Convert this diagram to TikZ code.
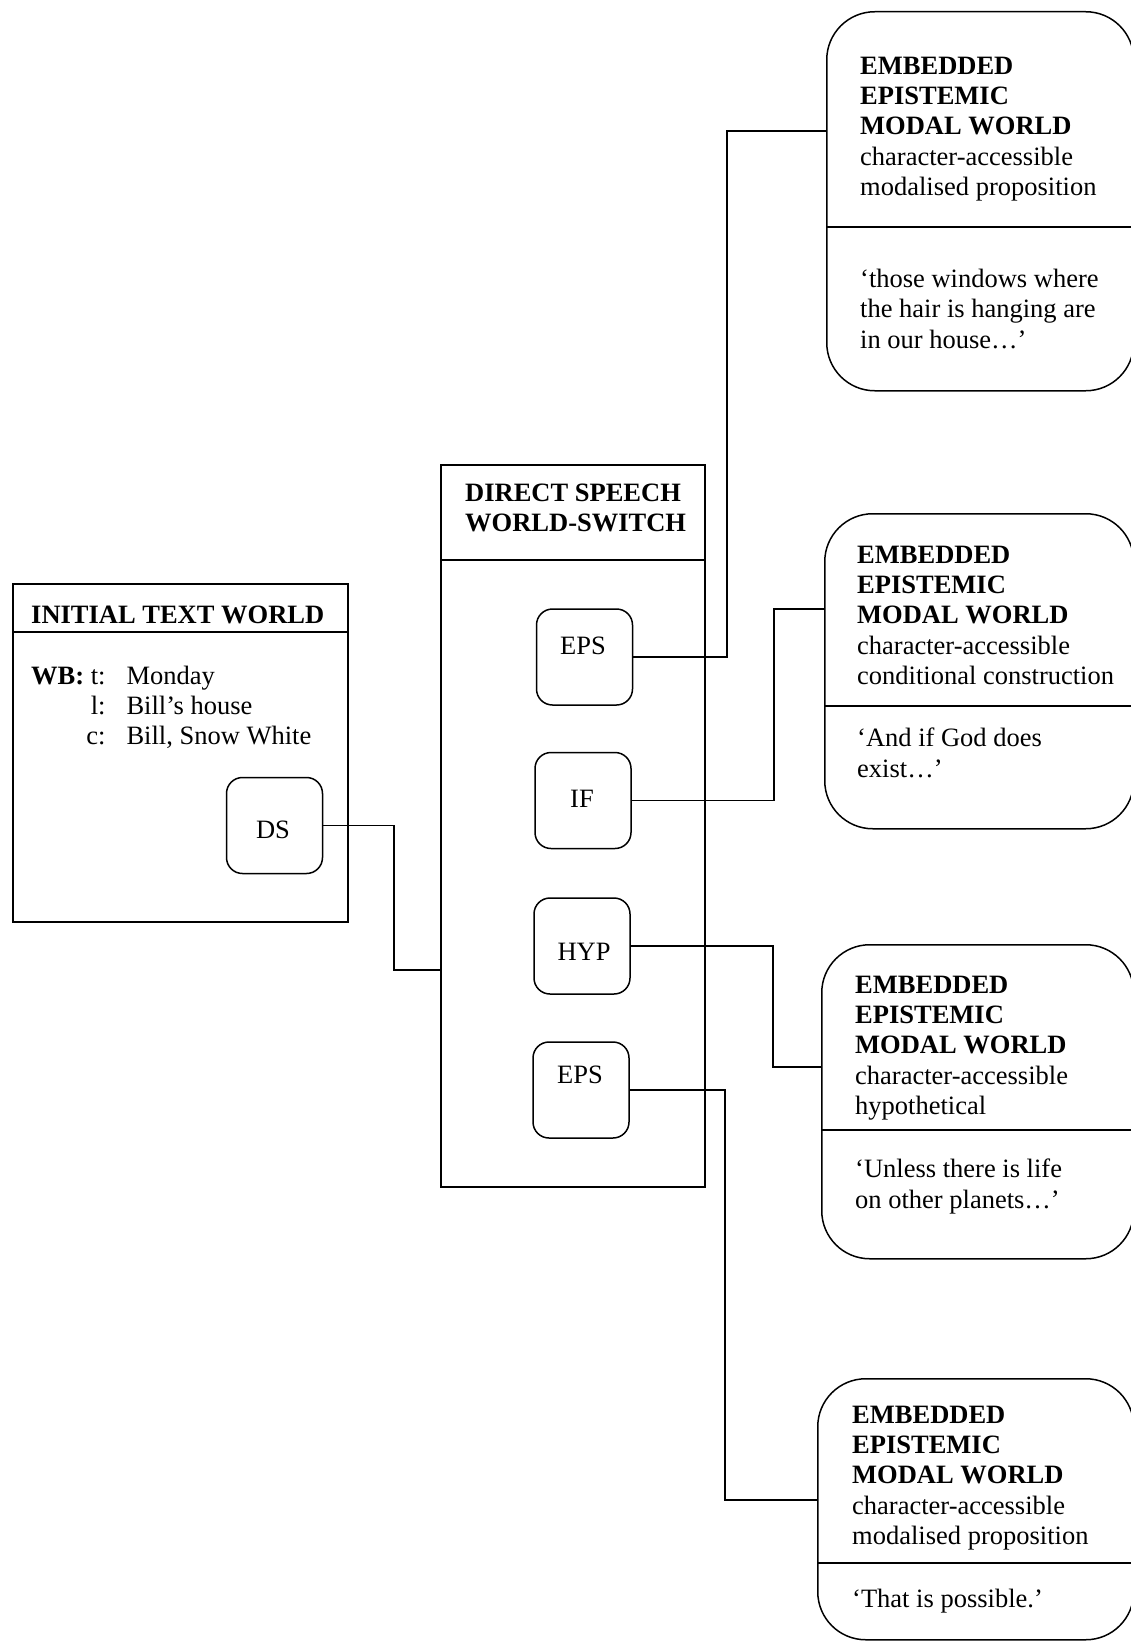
\documentclass[tikz,border=0pt]{standalone}
\usepackage{fontspec}
\setmainfont{Liberation Serif}
\begin{document}
\begin{tikzpicture}[x=1pt,y=-1pt,
  frame/.style={draw, line width=1.5pt, inner sep=0pt, anchor=north west},
  smallbox/.style={draw, line width=1.5pt, rounded corners=16pt, minimum width=96pt, minimum height=96pt, inner sep=0pt},
  bigbox/.style={draw, line width=1.5pt, rounded corners=48pt, inner sep=0pt, anchor=north west},
  txt/.style={font=\fontsize{26.5}{30.4}\selectfont, inner sep=0pt, align=left, anchor=north west},
  lbl/.style={font=\fontsize{26.5}{30.4}\selectfont, inner sep=0pt},
  conn/.style={line width=1.6pt}]
\path[use as bounding box, fill=white] (0,0) rectangle (1131,1643);

% initial text world
\node[frame, minimum width=335pt, minimum height=338pt] (iw) at (12,583) {};
\coordinate (iwd) at (0,632);
\draw[conn] (iw.west |- iwd) -- (iw.east |- iwd);
\node[lbl, anchor=base west] (iwt) at (31,623) {\textbf{INITIAL TEXT WORLD}};
\node[txt] (wb) at (31,662.7) {\begin{tabular}{@{}r@{\hspace{21pt}}l@{}}\textbf{WB:} t: & Monday\\ l: & Bill’s house\\ c: & Bill, Snow White\end{tabular}};
\node[smallbox] (ds) at (274.5,825.5) {};
\node[lbl] (dst) at (273,830) {DS};

% direct speech world-switch
\node[frame, minimum width=264pt, minimum height=722pt] (dsw) at (440,464) {};
\coordinate (dswd) at (0,560);
\draw[conn] (dsw.west |- dswd) -- (dsw.east |- dswd);
\node[txt] (dswt) at (465,483.5) {\textbf{DIRECT SPEECH}\\\textbf{WORLD-SWITCH}};

\node[smallbox] (eps1) at (584.5,657) {};
\node[lbl] (eps1t) at (583,646) {EPS};
\node[smallbox] (ifb) at (583,800.5) {};
\node[lbl] (ifbt) at (582,799) {IF};
\node[smallbox] (hyp) at (582,946) {};
\node[lbl] (hypt) at (584,952) {HYP};
\node[smallbox] (eps2) at (581,1090) {};
\node[lbl] (eps2t) at (580,1075) {EPS};

% embedded worlds
\node[bigbox, minimum width=307pt, minimum height=379pt] (w1) at (826,11) {};
\node[bigbox, minimum width=309pt, minimum height=315pt] (w2) at (824,513) {};
\node[bigbox, minimum width=312pt, minimum height=314pt] (w3) at (821,944) {};
\node[bigbox, minimum width=316pt, minimum height=261pt] (w4) at (817,1378) {};

\coordinate (d1) at (0,227);
\coordinate (d2) at (0,706);
\coordinate (d3) at (0,1130);
\coordinate (d4) at (0,1563);
\draw[conn] (w1.west |- d1) -- (w1.east |- d1);
\draw[conn] (w2.west |- d2) -- (w2.east |- d2);
\draw[conn] (w3.west |- d3) -- (w3.east |- d3);
\draw[conn] (w4.west |- d4) -- (w4.east |- d4);

\node[txt] (w1t) at (860,56.5) {\textbf{EMBEDDED}\\\textbf{EPISTEMIC}\\\textbf{MODAL WORLD}\\character-accessible\\modalised proposition};
\node[txt] (w1q) at (860,269) {‘those windows where\\the hair is hanging are\\in our house…’};
\node[txt] (w2t) at (857,545.5) {\textbf{EMBEDDED}\\\textbf{EPISTEMIC}\\\textbf{MODAL WORLD}\\character-accessible\\conditional construction};
\node[txt] (w2q) at (857,728) {‘And if God does\\exist…’};
\node[txt] (w3t) at (855,975.5) {\textbf{EMBEDDED}\\\textbf{EPISTEMIC}\\\textbf{MODAL WORLD}\\character-accessible\\hypothetical};
\node[txt] (w3q) at (855,1159) {‘Unless there is life\\on other planets…’};
\node[txt] (w4t) at (852,1405.5) {\textbf{EMBEDDED}\\\textbf{EPISTEMIC}\\\textbf{MODAL WORLD}\\character-accessible\\modalised proposition};
\node[txt] (w4q) at (852,1589) {‘That is possible.’};

% connectors
\coordinate (c0) at (0,970);
\coordinate (c1) at (0,131);
\coordinate (c2) at (0,609);
\coordinate (c3) at (0,1067);
\coordinate (c4) at (0,1500);
\draw[conn] (ds.east) -- ++(71,0) |- (dsw.west |- c0);
\draw[conn] (eps1.east) -- ++(94,0) |- (w1.west |- c1);
\draw[conn] (ifb.east) -- ++(142,0) |- (w2.west |- c2);
\draw[conn] (hyp.east) -- ++(142,0) |- (w3.west |- c3);
\draw[conn] (eps2.east) -- ++(95,0) |- (w4.west |- c4);
\end{tikzpicture}
\end{document}
